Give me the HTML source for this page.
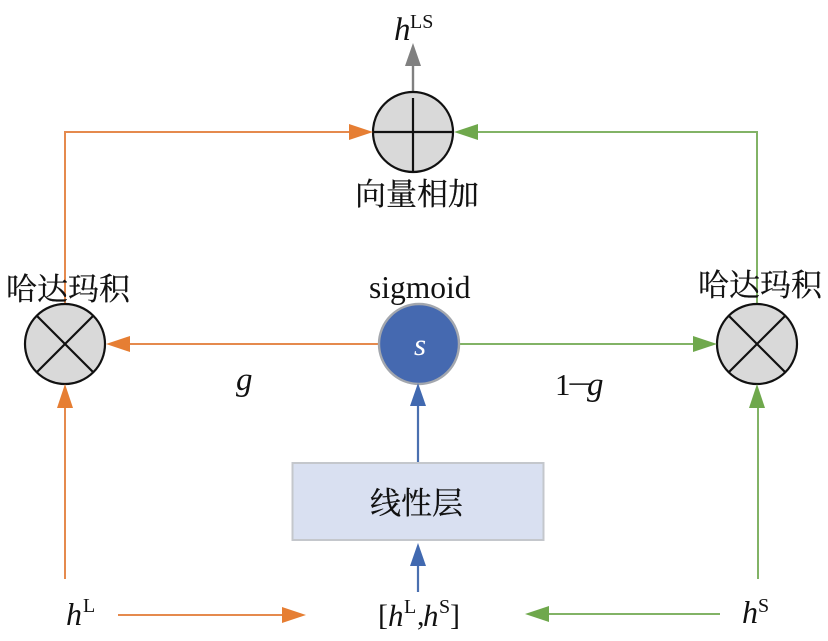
<!DOCTYPE html>
<html><head><meta charset="utf-8"><style>
html,body{margin:0;padding:0;background:#fff}
svg{display:block}
text{font-family:"Liberation Serif","Noto Serif CJK SC",serif;fill:#111}
.cjk{font-family:"Liberation Serif","Noto Serif CJK SC",serif;font-size:31px;stroke:#111;stroke-width:.25}
.i{font-style:italic}
</style></head><body>
<svg xmlns="http://www.w3.org/2000/svg" width="828" height="641" viewBox="0 0 828 641">
<rect width="828" height="641" fill="#fff"/>
<!-- orange lines -->
<g fill="none" stroke="#e58a4e" stroke-width="2">
<path d="M65 304V132H350"/>
<path d="M378 344H127"/>
<path d="M65 579V405"/>
<path d="M118 615H284"/>
</g>
<!-- green lines -->
<g fill="none" stroke="#82b366" stroke-width="2">
<path d="M757 304V132H476"/>
<path d="M459 344H696"/>
<path d="M758 579V406"/>
<path d="M720 614H547"/>
</g>
<!-- other lines -->
<path d="M413 96V65" stroke="#808080" stroke-width="2.4" fill="none"/>
<path d="M418 463V405M418 592V563" stroke="#4a70b0" stroke-width="2.2" fill="none"/>
<!-- circles -->
<g fill="#d9d9d9" stroke="#111" stroke-width="2.2">
<circle cx="413" cy="132" r="40"/>
<path d="M373 132H453M413 98V172" fill="none"/>
<circle cx="65" cy="344" r="40"/>
<path d="M37 316L93 372M93 316L37 372" fill="none"/>
<circle cx="757" cy="344" r="40"/>
<path d="M729 316L785 372M785 316L729 372" fill="none"/>
</g>
<circle cx="419" cy="344" r="40" fill="#4569b0" stroke="#a3a7ae" stroke-width="2.4"/>
<!-- arrowheads -->
<g fill="#e67e33">
<path d="M373 132L349 124V140Z"/>
<path d="M106 344L130 336V352Z"/>
<path d="M65 384L57 408H73Z"/>
<path d="M306 615L282 607V623Z"/>
</g>
<g fill="#6fa84c">
<path d="M454 132L478 124V140Z"/>
<path d="M717 344L693 336V352Z"/>
<path d="M757 384L749 408H765Z"/>
<path d="M525 614L549 606V622Z"/>
</g>
<path d="M413 43L405 66H421Z" fill="#808080"/>
<path d="M418 383L410 406H426Z" fill="#4169b0"/>
<path d="M418 543L410 566H426Z" fill="#4169b0"/>
<!-- box -->
<rect x="292.500" y="463" width="251" height="77" fill="#d9e0f1" stroke="#c4c7cc" stroke-width="2"/>
<!-- labels -->
<text x="394" y="40" font-size="33" class="i">h</text>
<text x="410" y="28" font-size="20">LS</text>
<text x="355" y="205" class="cjk">向量相加</text>
<text x="6" y="300" class="cjk">哈达玛积</text>
<text x="698" y="296" class="cjk">哈达玛积</text>
<text x="369" y="298" font-size="31.500">sigmoid</text>
<text x="414" y="355" font-size="31" class="i" style="fill:#fff">s</text>
<text x="236" y="390" font-size="33" class="i">g</text>
<text x="555" y="395" font-size="31">1</text>
<text transform="translate(567,394) scale(1.6,1)" font-size="30">−</text>
<text x="587" y="395" font-size="33" class="i">g</text>
<text x="370" y="514" class="cjk">线性层</text>
<text x="66" y="625" font-size="32" class="i">h</text>
<text x="83" y="612" font-size="20">L</text>
<text x="378" y="625" font-size="30">[</text>
<text x="388" y="626" font-size="31" class="i">h</text>
<text x="404" y="613" font-size="20">L</text>
<text x="417" y="625" font-size="30">,</text>
<text x="423" y="626" font-size="31" class="i">h</text>
<text x="439" y="613" font-size="20">S</text>
<text x="450" y="625" font-size="30">]</text>
<text x="742" y="623" font-size="32" class="i">h</text>
<text x="758" y="612" font-size="20">S</text>
</svg>
</body></html>
